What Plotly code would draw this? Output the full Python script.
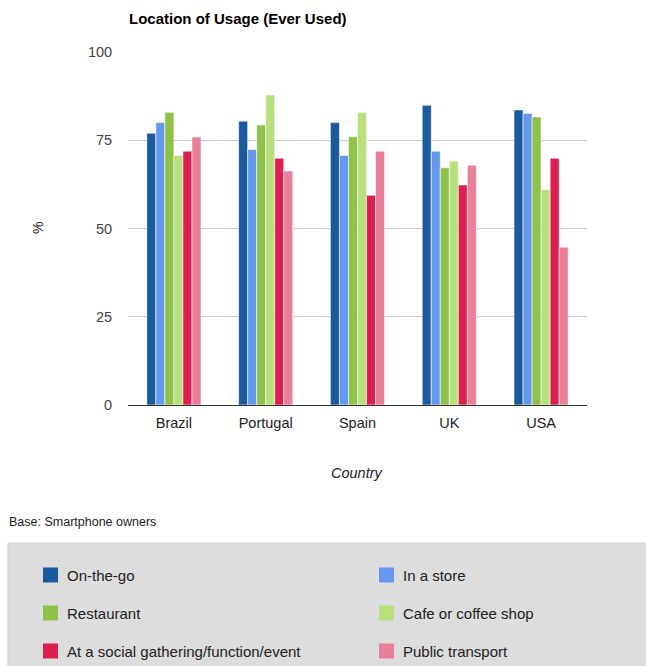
import plotly.graph_objects as go

countries = ["Brazil", "Portugal", "Spain", "UK", "USA"]
series_names = ["On-the-go", "In a store", "Restaurant", "Cafe or coffee shop",
                "At a social gathering/function/event", "Public transport"]
on_the_go = [77.0, 80.4, 80.0, 84.9, 83.6]
in_a_store = [80.0, 72.4, 70.7, 71.9, 82.6]
restaurant = [82.9, 79.3, 76.0, 67.2, 81.6]
cafe = [70.7, 87.8, 82.9, 69.1, 61.0]
social = [71.9, 69.9, 59.4, 62.3, 69.9]
public_transport = [75.9, 66.3, 71.9, 67.9, 44.7]
series_values = [on_the_go, in_a_store, restaurant, cafe, social, public_transport]
colors = ["#1a5a9d", "#6699ee", "#8fc24a", "#b8e07c", "#dc1f50", "#e8809b"]
y_ticks = [0, 25, 50, 75, 100]

W, H = 646, 666
L, R, T, B = 128, 587, 52, 405
FONT = "Liberation Sans, Arial, sans-serif"

def px(x):
    return (x - L) / (R - L)

def py(y):
    return (B - y) / (B - T)

fig = go.Figure()
for name, vals, col in zip(series_names, series_values, colors):
    fig.add_trace(go.Bar(
        x=countries, y=vals, name=name,
        marker=dict(color=col, line=dict(color="rgba(255,255,255,0.55)", width=1)),
        showlegend=False,
    ))

shapes = []
annotations = []

# legend box
shapes.append(dict(type="rect", xref="paper", yref="paper",
                   x0=px(8), x1=px(700), y0=py(543), y1=py(720),
                   fillcolor="#dddddd", line=dict(color="#cfcfcf", width=1), layer="below"))

legend_pos = [(43, 575), (379, 575), (43, 613), (379, 613), (43, 651), (379, 651)]
for (lx, ly), name, col in zip(legend_pos, series_names, colors):
    shapes.append(dict(type="rect", xref="paper", yref="paper",
                       x0=px(lx), x1=px(lx + 15), y0=py(ly - 7.5), y1=py(ly + 7.5),
                       fillcolor=col, line=dict(width=0)))
    annotations.append(dict(text=name, xref="paper", yref="paper",
                            x=px(lx + 22), y=py(ly), xanchor="left", yanchor="middle",
                            showarrow=False, font=dict(family=FONT, size=15, color="#222222")))

annotations += [
    dict(text="<b>Location of Usage (Ever Used)</b>", xref="paper", yref="paper",
         x=px(127), y=py(18), xanchor="left", yanchor="middle", showarrow=False,
         font=dict(family=FONT, size=15, color="#000000")),
    dict(text="%", xref="paper", yref="paper", x=px(38), y=py(228), textangle=-90,
         xanchor="center", yanchor="middle", showarrow=False,
         font=dict(family=FONT, size=14, color="#222222")),
    dict(text="<i>Country</i>", xref="paper", yref="paper", x=px(357), y=py(473),
         xanchor="center", yanchor="middle", showarrow=False,
         font=dict(family=FONT, size=14.5, color="#222222")),
    dict(text="Base: Smartphone owners", xref="paper", yref="paper", x=px(7), y=py(522),
         xanchor="left", yanchor="middle", showarrow=False,
         font=dict(family=FONT, size=12.5, color="#222222")),
]

fig.update_layout(
    width=W, height=H,
    margin=dict(l=L, r=W - R, t=T, b=H - B, pad=0),
    paper_bgcolor="white", plot_bgcolor="white",
    barmode="group", bargap=0.41, bargroupgap=0.0,
    font=dict(family=FONT, size=14.5, color="#222222"),
    shapes=shapes, annotations=annotations,
    xaxis=dict(range=[-0.5, 4.5], showline=True, linecolor="#333333", linewidth=1,
               ticks="outside", ticklen=5, tickcolor="rgba(0,0,0,0)",
               tickfont=dict(family=FONT, size=14.5, color="#222222"), showgrid=False),
    yaxis=dict(range=[0, 100], tickvals=y_ticks, showgrid=True, gridcolor="#cccccc",
               gridwidth=1, zeroline=False, showline=False,
               ticks="outside", ticklen=12, tickcolor="rgba(0,0,0,0)",
               tickfont=dict(family=FONT, size=14.5, color="#444444")),
)

fig.write_html("out.html")
